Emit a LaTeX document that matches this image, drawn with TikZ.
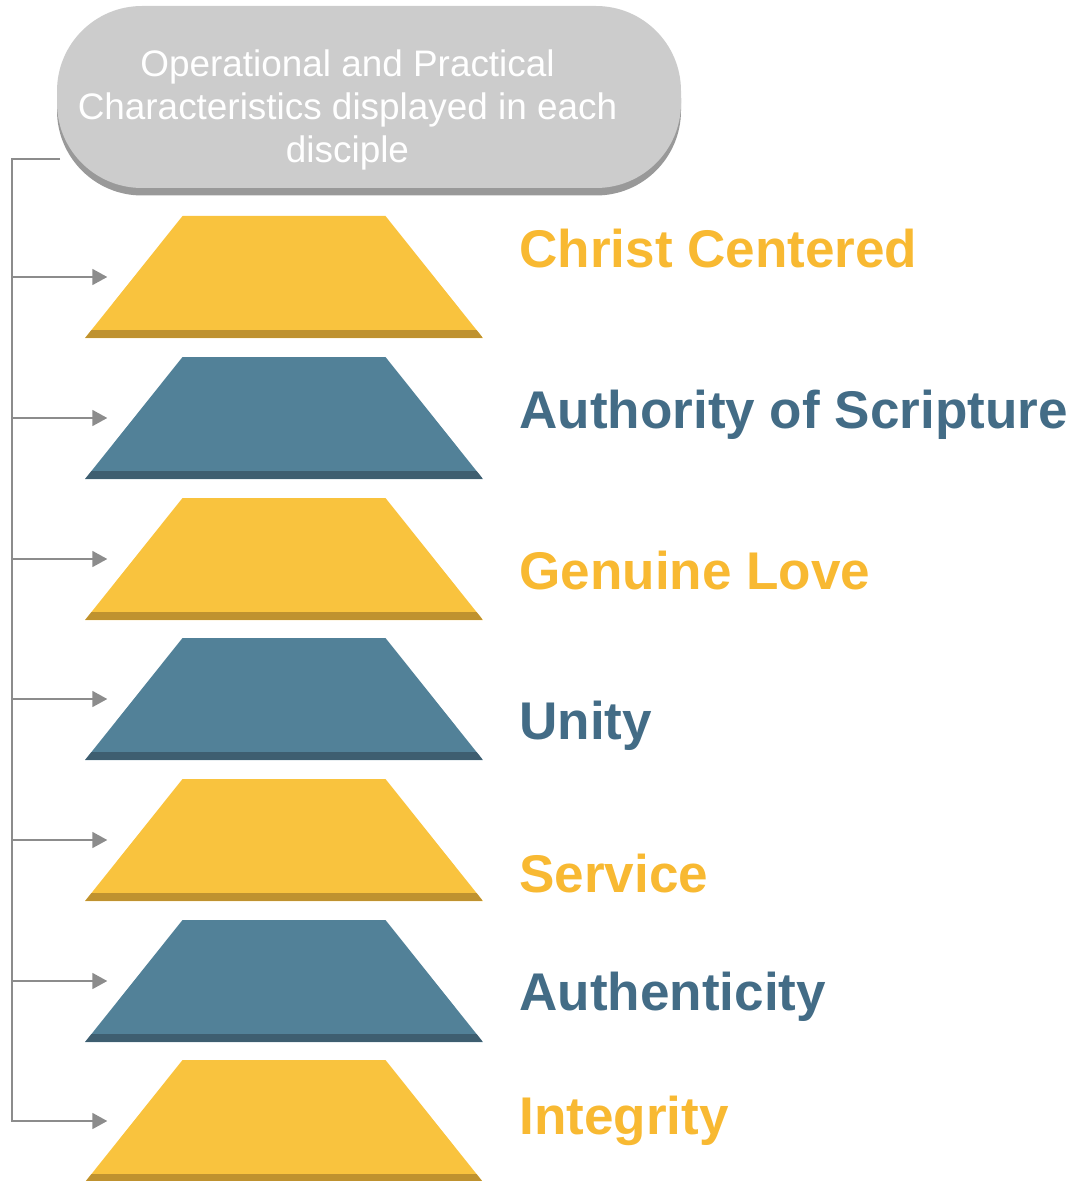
\documentclass[tikz,border=0pt]{standalone}
\usepackage{fontspec}
\setmainfont{Liberation Sans}
\usepackage{tikz}
\usetikzlibrary{shapes, arrows.meta, positioning, shadows}

\definecolor{pillgray}{RGB}{204,204,204}
\definecolor{pillshade}{RGB}{153,153,153}
\definecolor{gold1}{RGB}{249,195,62}
\definecolor{goldband}{RGB}{191,146,47}
\definecolor{steel}{RGB}{82,129,152}
\definecolor{steelband}{RGB}{62,94,112}
\definecolor{goldtext}{RGB}{248,185,50}
\definecolor{steeltext}{RGB}{67,108,134}
\definecolor{linkgray}{RGB}{140,140,140}

\tikzset{
  stepbox/.style={trapezium, trapezium left angle=51.4, trapezium right angle=51.4,
    inner xsep=2.03cm, inner ysep=1.22cm, outer sep=0pt},
  goldstep/.style={stepbox, fill=gold1, path picture={
    \fill[goldband] (path picture bounding box.south west) rectangle ([yshift=0.16cm]path picture bounding box.south east);}},
  steelstep/.style={stepbox, fill=steel, path picture={
    \fill[steelband] (path picture bounding box.south west) rectangle ([yshift=0.16cm]path picture bounding box.south east);}},
  tag/.style={anchor=base west, inner sep=0pt, font=\fontsize{30.2}{36}\selectfont\bfseries},
  link/.style={draw=linkgray, line width=1.2pt},
  arr/.style={link, -{Triangle[length=8.5pt, width=9pt]}, shorten >=0.53cm}
}

\begin{document}
\begin{tikzpicture}
  \useasboundingbox (0,0) rectangle (21.56,-23.62);

  % header pill
  \node[rectangle, rounded corners=1.7cm, fill=pillgray, minimum width=12.48cm, minimum height=3.64cm,
        inner sep=0pt, outer sep=0pt,
        drop shadow={shadow xshift=0pt, shadow yshift=-0.15cm, fill=pillshade, opacity=1}] (pill) at (7.38,-1.94) {};
  \node[text=white, align=center, inner sep=0pt, font=\fontsize{21}{24.7}\selectfont] (title) at (6.95,-2.20)
    {Operational and Practical\\Characteristics displayed in each\\disciple};

  % steps
  \node[goldstep] (t1) at (5.68,-5.54) {};
  \node[steelstep] (t2) at (5.68,-8.36) {};
  \node[goldstep] (t3) at (5.68,-11.18) {};
  \node[steelstep] (t4) at (5.68,-13.98) {};
  \node[goldstep] (t5) at (5.68,-16.80) {};
  \node[steelstep] (t6) at (5.68,-19.62) {};
  \node[goldstep] (t7) at (5.68,-22.42) {};

  % labels
  \node[tag, text=goldtext] (l1) at (10.38,-5.36) {Christ Centered};
  \node[tag, text=steeltext] (l2) at (10.38,-8.56) {Authority of Scripture};
  \node[tag, text=goldtext] (l3) at (10.38,-11.78) {Genuine Love};
  \node[tag, text=steeltext] (l4) at (10.38,-14.78) {Unity};
  \node[tag, text=goldtext] (l5) at (10.38,-17.84) {Service};
  \node[tag, text=steeltext] (l6) at (10.38,-20.20) {Authenticity};
  \node[tag, text=goldtext] (l7) at (10.38,-22.68) {Integrity};

  % connectors
  \coordinate (rail) at (0.24,-3.18);
  \coordinate (hook) at ([xshift=0.06cm]pill.west |- rail);
  \draw[arr] (hook) -- (rail) -- (rail |- t7.west) -- (t7.west);
  \draw[arr] (rail |- t1.west) -- (t1.west);
  \draw[arr] (rail |- t2.west) -- (t2.west);
  \draw[arr] (rail |- t3.west) -- (t3.west);
  \draw[arr] (rail |- t4.west) -- (t4.west);
  \draw[arr] (rail |- t5.west) -- (t5.west);
  \draw[arr] (rail |- t6.west) -- (t6.west);
\end{tikzpicture}
\end{document}
